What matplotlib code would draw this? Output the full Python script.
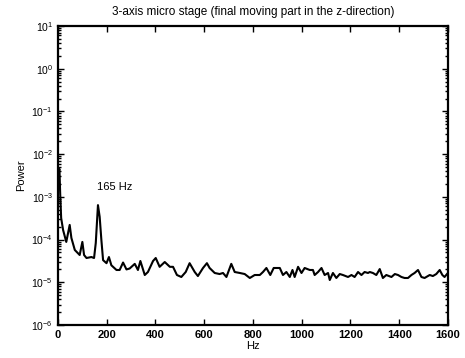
import matplotlib
matplotlib.use("Agg")
import matplotlib.pyplot as plt
from matplotlib.ticker import FixedLocator, NullFormatter, LogFormatterSciNotation

plt.rcParams['font.family'] = ['Liberation Sans', 'DejaVu Sans']

title = "3-axis micro stage (final moving part in the z-direction)"
xlabel = "Hz"
ylabel = "Power"
annotation = "165 Hz"
annot_x = 160
annot_y = 1.45e-3

freq = [0, 3, 6, 9, 13, 21, 34, 48, 55, 69, 89, 100, 107, 117, 137, 148, 155, 164,
        171, 178, 185, 199, 209, 219, 240, 253, 267, 281, 294, 315, 328, 338,
        356, 369, 390, 401, 417, 438, 459, 472, 488, 506, 524, 540, 561, 574,
        595, 611, 622, 643, 663, 677, 691, 711, 725, 746, 766, 787, 807, 828,
        841, 855, 871, 885, 899, 910, 923, 937, 951, 962, 971, 985, 999, 1012,
        1033, 1046, 1053, 1067, 1081, 1094, 1108, 1115, 1128, 1142, 1156, 1169,
        1190, 1204, 1217, 1231, 1245, 1258, 1272, 1279, 1292, 1306, 1320, 1333,
        1347, 1368, 1382, 1395, 1409, 1422, 1436, 1450, 1463, 1477, 1491, 1504,
        1525, 1538, 1552, 1566, 1577, 1586, 1596]
power = [3.0e-3, 4.0e-3, 4.5e-3, 1.2e-3, 3.2e-4, 1.67e-4, 8.8e-5, 2.2e-4, 1.09e-4, 5.7e-5,
         4.35e-5, 8.8e-5, 4.35e-5, 3.7e-5, 3.9e-5, 3.7e-5, 8.3e-5, 6.4e-4,
         3.4e-4, 9.8e-5, 3.3e-5, 2.8e-5, 3.9e-5, 2.5e-5, 1.94e-5, 1.94e-5,
         2.9e-5, 2.0e-5, 2.1e-5, 2.7e-5, 1.94e-5, 3.15e-5, 1.48e-5, 1.74e-5,
         3.15e-5, 3.7e-5, 2.3e-5, 2.98e-5, 2.3e-5, 2.3e-5, 1.48e-5, 1.33e-5,
         1.74e-5, 2.8e-5, 1.74e-5, 1.40e-5, 2.16e-5, 2.8e-5, 2.16e-5, 1.65e-5,
         1.56e-5, 1.65e-5, 1.33e-5, 2.7e-5, 1.74e-5, 1.65e-5, 1.56e-5, 1.26e-5,
         1.48e-5, 1.48e-5, 1.74e-5, 2.16e-5, 1.48e-5, 2.16e-5, 2.16e-5, 2.16e-5,
         1.48e-5, 1.74e-5, 1.33e-5, 1.94e-5, 1.33e-5, 2.3e-5, 1.65e-5, 2.16e-5,
         1.94e-5, 1.94e-5, 1.48e-5, 1.74e-5, 2.16e-5, 1.48e-5, 1.65e-5, 1.13e-5,
         1.65e-5, 1.26e-5, 1.56e-5, 1.48e-5, 1.33e-5, 1.48e-5, 1.33e-5, 1.74e-5,
         1.48e-5, 1.74e-5, 1.65e-5, 1.74e-5, 1.65e-5, 1.48e-5, 2.04e-5, 1.26e-5,
         1.48e-5, 1.33e-5, 1.56e-5, 1.48e-5, 1.33e-5, 1.26e-5, 1.26e-5, 1.48e-5,
         1.65e-5, 1.94e-5, 1.33e-5, 1.26e-5, 1.48e-5, 1.40e-5, 1.56e-5, 1.94e-5,
         1.48e-5, 1.33e-5, 1.56e-5]

xticks = [0, 200, 400, 600, 800, 1000, 1200, 1400, 1600]
yticks = [1e-6, 1e-5, 1e-4, 1e-3, 1e-2, 1e-1, 1e0, 1e1]

fig = plt.figure(figsize=(4.65, 3.58), dpi=100)
ax = fig.add_axes([0.1247, 0.0922, 0.9634 - 0.1247, 0.9274 - 0.0922])
ax.plot(freq, power, color='black', linewidth=1.5)
ax.set_yscale('log')
ax.set_xlim(0, 1600)
ax.set_ylim(1e-6, 1e1)
ax.set_xticks(xticks)
ax.set_xticklabels([str(t) for t in xticks], fontsize=8, fontweight='bold')
ax.yaxis.set_major_locator(FixedLocator(yticks))
ax.yaxis.set_major_formatter(LogFormatterSciNotation())
minor = [m * d for d in yticks[:-1] for m in range(2, 10)]
ax.yaxis.set_minor_locator(FixedLocator(minor))
ax.yaxis.set_minor_formatter(NullFormatter())
ax.tick_params(axis='y', labelsize=7.5)
ax.tick_params(which='both', direction='in', top=True, right=True, width=1)
ax.tick_params(which='major', length=4)
ax.tick_params(which='minor', length=2)
for s in ax.spines.values():
    s.set_linewidth(1.6)
ax.set_title(title, fontsize=8.5, pad=8)
ax.set_xlabel(xlabel, fontsize=8, labelpad=1)
ax.set_ylabel(ylabel, fontsize=8, labelpad=4)
ax.text(annot_x, annot_y, annotation, fontsize=8)
fig.savefig("out.png", dpi=100)
